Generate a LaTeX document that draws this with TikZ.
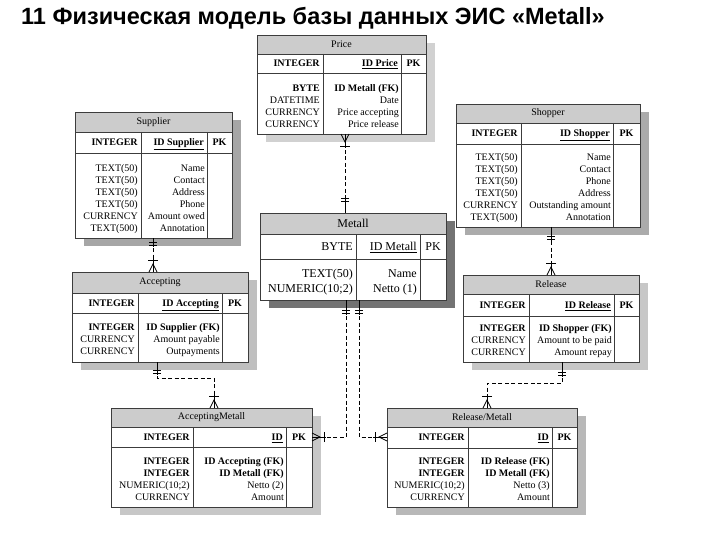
\documentclass[tikz,border=0pt]{standalone}
\usepackage{fontspec}
\setmainfont{Liberation Serif}
\newfontfamily\titlefont{Liberation Sans}
\usetikzlibrary{calc}
\definecolor{hdr}{RGB}{204,204,204}
\definecolor{frm}{RGB}{60,60,60}
\newcommand{\tabfont}{\fontsize{10}{12}\selectfont}
\tikzset{
  frame/.style={draw=frm, line width=0.6pt},
  cell/.style={inner sep=0pt, font=\tabfont},
  sym/.style={draw=black, line width=0.7pt, solid},
  conn/.style={draw=black, line width=0.8pt, dash pattern=on 4pt off 2.5pt},
}
% table frame: name, L, T, R, B, H1, H2, C1, C2
\newcommand{\ertab}[9]{%
  \fill[shcol] ({#2+9},{#3+8}) rectangle ({#4+9},{#5+8});
  \filldraw[frame, fill=white] (#2,#3) rectangle (#4,#5);
  \filldraw[frame, fill=hdr] (#2,#3) rectangle (#4,#6);
  \draw[frame] (#2,#7) -- (#4,#7);
  \draw[frame] (#8,#6) -- (#8,#5) (#9,#6) -- (#9,#5);
  \coordinate (#1) at ({(#2+#4)/2},{(#3+#5)/2});
}
% second row: prefix, C1, C2, R, ycenter, type, id, pk
\newcommand{\rowtwo}[8]{%
  \node[cell, anchor=base east] (#1-ty) at ({#2-3},{#5+3.4}) {#6};
  \node[cell, anchor=base east] (#1-id) at ({#3-3},{#5+3.4}) {#7};
  \node[cell, anchor=base] (#1-pk) at ({(#3+#4)/2},{#5+3.4}) {#8};
}
% body rows: prefix, C1, C2, y0, step, list
\newcommand{\bodyrows}[6]{%
  \foreach \a/\b [count=\i] in {#6} {
    \node[cell, anchor=base east] (#1-a\i) at ({#2-3},{#4+(\i-1)*#5+3.4}) {\a};
    \node[cell, anchor=base east] (#1-b\i) at ({#3-2},{#4+(\i-1)*#5+3.4}) {\b};
  }
}
% crow's foot: tip x, tip y, ux, uy (u points away from table)
\newcommand{\crowf}[4]{%
  \draw[sym] ({#1+4*(#4)},{#2-4*(#3)}) -- ({#1+8*(#3)},{#2+8*(#4)}) -- ({#1-4*(#4)},{#2+4*(#3)});
  \draw[sym] (#1,#2) -- ({#1+14*(#3)},{#2+14*(#4)});
  \draw[sym] ({#1+12*(#3)-5*(#4)},{#2+12*(#4)+5*(#3)}) -- ({#1+12*(#3)+5*(#4)},{#2+12*(#4)-5*(#3)});
}
% double bar: tip x, tip y, ux, uy, distance
\newcommand{\dbar}[5]{%
  \draw[sym] (#1,#2) -- ({#1+(#5+5)*(#3)},{#2+(#5+5)*(#4)});
  \draw[sym] ({#1+#5*(#3)-4*(#4)},{#2+#5*(#4)+4*(#3)}) -- ({#1+#5*(#3)+4*(#4)},{#2+#5*(#4)-4*(#3)});
  \draw[sym] ({#1+(#5+3)*(#3)-4*(#4)},{#2+(#5+3)*(#4)+4*(#3)}) -- ({#1+(#5+3)*(#3)+4*(#4)},{#2+(#5+3)*(#4)-4*(#3)});
}
\begin{document}
\begin{tikzpicture}[x=1pt, y=-1pt]
\useasboundingbox (0,0) rectangle (720,540);
\fill[white] (0,0) rectangle (720,540);

\node[anchor=base west, inner sep=0pt, font=\titlefont\bfseries\fontsize{23.5}{26}\selectfont] (title) at (21,25) {11 Физическая модель базы данных ЭИС «Metall»};

% ---------- Price ----------
\colorlet{shcol}{black!18}
\ertab{price}{257}{35}{426}{134}{54}{73}{323}{401}
\node[cell] (price-t) at (341.5,44.5) {Price};
\rowtwo{price}{323}{401}{426}{63.5}{\textbf{INTEGER}}{\underline{\textbf{ID Price}}}{\textbf{PK}}
\bodyrows{price}{323}{401}{88}{12}{{\textbf{BYTE}}/{\textbf{ID Metall (FK)}},DATETIME/Date,CURRENCY/Price accepting,CURRENCY/Price release}

% ---------- Supplier ----------
\colorlet{shcol}{black!35}
\ertab{supplier}{75}{112}{232}{238}{132}{153}{141}{207}
\node[cell] (supplier-t) at (153.5,122) {Supplier};
\rowtwo{supplier}{141}{207}{232}{142.5}{\textbf{INTEGER}}{\underline{\textbf{ID Supplier}}}{\textbf{PK}}
\bodyrows{supplier}{141}{207}{168}{12}{TEXT(50)/Name,TEXT(50)/Contact,TEXT(50)/Address,TEXT(50)/Phone,CURRENCY/Amount owed,TEXT(500)/Annotation}

% ---------- Shopper ----------
\colorlet{shcol}{black!33}
\ertab{shopper}{456}{104}{640}{227}{123}{144}{521}{613}
\node[cell] (shopper-t) at (548,113.5) {Shopper};
\rowtwo{shopper}{521}{613}{640}{133.5}{\textbf{INTEGER}}{\underline{\textbf{ID Shopper}}}{\textbf{PK}}
\bodyrows{shopper}{521}{613}{157}{12}{TEXT(50)/Name,TEXT(50)/Contact,TEXT(50)/Phone,TEXT(50)/Address,CURRENCY/Outstanding amount,TEXT(500)/Annotation}

% ---------- Metall ----------
\renewcommand{\tabfont}{\fontsize{12}{14}\selectfont}
\colorlet{shcol}{black!55}
\ertab{metall}{260}{213}{446}{300}{234}{259}{356}{420}
\node[cell] (metall-t) at (353,223.5) {Metall};
\node[cell, anchor=base east] (metall-ty) at (353,250.5) {BYTE};
\node[cell, anchor=base east] (metall-id) at (417,250.5) {\underline{ID Metall}};
\node[cell, anchor=base] (metall-pk) at (433,250.5) {PK};
\node[cell, anchor=base east] (metall-a1) at (353,277.5) {TEXT(50)};
\node[cell, anchor=base east] (metall-b1) at (417,277.5) {Name};
\node[cell, anchor=base east] (metall-a2) at (353,292.5) {NUMERIC(10;2)};
\node[cell, anchor=base east] (metall-b2) at (417,292.5) {Netto (1)};

% ---------- Accepting ----------
\renewcommand{\tabfont}{\fontsize{10}{12}\selectfont}
\colorlet{shcol}{black!25}
\ertab{accepting}{72}{272}{248}{362}{293}{313}{138}{222}
\node[cell] (accepting-t) at (160,282.5) {Accepting};
\rowtwo{accepting}{138}{222}{248}{303}{\textbf{INTEGER}}{\underline{\textbf{ID Accepting}}}{\textbf{PK}}
\bodyrows{accepting}{138}{222}{327}{12}{{\textbf{INTEGER}}/{\textbf{ID Supplier (FK)}},CURRENCY/Amount payable,CURRENCY/Outpayments}

% ---------- Release ----------
\colorlet{shcol}{black!22}
\ertab{release}{463}{275}{639}{362}{294}{316}{529}{614}
\node[cell] (release-t) at (551,284.5) {Release};
\rowtwo{release}{529}{614}{639}{305}{\textbf{INTEGER}}{\underline{\textbf{ID Release}}}{\textbf{PK}}
\bodyrows{release}{529}{614}{328}{12}{{\textbf{INTEGER}}/{\textbf{ID Shopper (FK)}},CURRENCY/Amount to be paid,CURRENCY/Amount repay}

% ---------- AcceptingMetall ----------
\colorlet{shcol}{black!22}
\ertab{accmet}{111}{408}{312}{507}{427}{447}{193}{286}
\node[cell] (accmet-t) at (211.5,417.5) {AcceptingMetall};
\rowtwo{accmet}{193}{286}{312}{437}{\textbf{INTEGER}}{\underline{\textbf{ID}}}{\textbf{PK}}
\bodyrows{accmet}{193}{286}{461}{12}{{\textbf{INTEGER}}/{\textbf{ID Accepting (FK)}},{\textbf{INTEGER}}/{\textbf{ID Metall (FK)}},NUMERIC(10;2)/Netto (2),CURRENCY/Amount}

% ---------- Release/Metall ----------
\colorlet{shcol}{black!28}
\ertab{relmet}{387}{408}{577}{507}{427}{448}{468}{552}
\node[cell] (relmet-t) at (482,417.5) {Release/Metall};
\rowtwo{relmet}{468}{552}{577}{437.5}{\textbf{INTEGER}}{\underline{\textbf{ID}}}{\textbf{PK}}
\bodyrows{relmet}{468}{552}{461}{12}{{\textbf{INTEGER}}/{\textbf{ID Release (FK)}},{\textbf{INTEGER}}/{\textbf{ID Metall (FK)}},NUMERIC(10;2)/Netto (3),CURRENCY/Amount}

% ---------- connector end points ----------
\coordinate (c1a) at (345,150); \coordinate (c1b) at (345,196);
\coordinate (c2a) at (153,248); \coordinate (c2b) at (153,258);
\coordinate (c3a) at (551,241); \coordinate (c3b) at (551,261);
\coordinate (c4a) at (157,376); \coordinate (c4m) at (157,378); \coordinate (c4n) at (214,378); \coordinate (c4b) at (214,394);
\coordinate (c5a) at (562,378); \coordinate (c5m) at (562,383); \coordinate (c5n) at (487,383); \coordinate (c5b) at (487,394);
\coordinate (c6a) at (346,316); \coordinate (c6m) at (346,437); \coordinate (c6b) at (326,437);
\coordinate (c7a) at (359,316); \coordinate (c7m) at (359,437); \coordinate (c7b) at (373,437);

% Price -> Metall
\crowf{345}{134}{0}{1}
\dbar{345}{213}{0}{-1}{12}
\draw[conn] (c1a) -- (c1b);
% Supplier -> Accepting
\dbar{153}{238}{0}{1}{4}
\crowf{153}{272}{0}{-1}
\draw[conn] (c2a) -- (c2b);
% Shopper -> Release
\dbar{551}{227}{0}{1}{9}
\crowf{551}{275}{0}{-1}
\draw[conn] (c3a) -- (c3b);
% Accepting -> AcceptingMetall
\dbar{157}{362}{0}{1}{8}
\crowf{214}{408}{0}{-1}
\draw[conn] (c4a) -- (c4m) -- (c4n) -- (c4b);
% Release -> Release/Metall
\dbar{562}{362}{0}{1}{10}
\crowf{487}{408}{0}{-1}
\draw[conn] (c5a) -- (c5m) -- (c5n) -- (c5b);
% Metall -> AcceptingMetall
\dbar{346}{300}{0}{1}{10}
\crowf{312}{437}{1}{0}
\draw[conn] (c6a) -- (c6m) -- (c6b);
% Metall -> Release/Metall
\dbar{359}{300}{0}{1}{10}
\crowf{387}{437}{-1}{0}
\draw[conn] (c7a) -- (c7m) -- (c7b);
\end{tikzpicture}
\end{document}
